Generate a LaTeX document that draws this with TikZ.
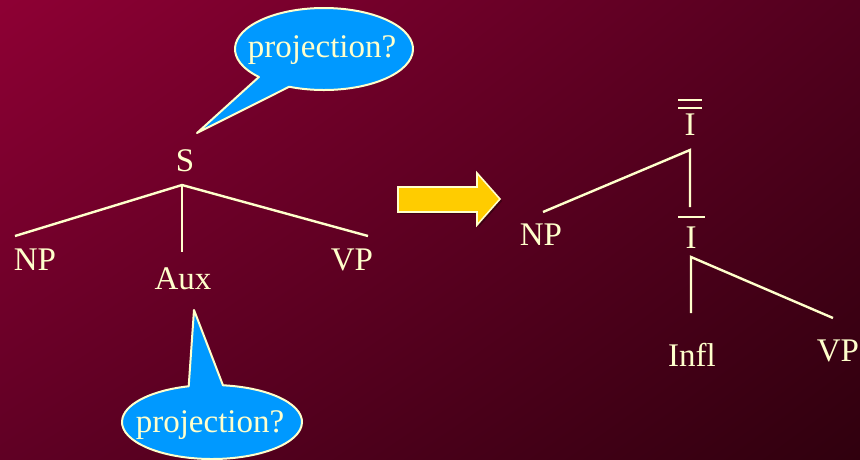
\documentclass[tikz,border=0pt]{standalone}
\usepackage{fontspec}
\setmainfont{Liberation Serif}
\usetikzlibrary{shadings}
\definecolor{creamc}{RGB}{255,255,204}
\definecolor{bubblec}{RGB}{0,153,255}
\definecolor{arrowc}{RGB}{255,204,0}
\definecolor{shadowc}{RGB}{60,0,20}
\definecolor{bgA}{RGB}{142,0,52}
\definecolor{bgB}{RGB}{82,0,30}
\definecolor{bgC}{RGB}{96,0,36}
\definecolor{bgD}{RGB}{48,0,14}
\begin{document}
\begin{tikzpicture}[x=1pt,y=-1pt,
  lbl/.style={text=creamc,font=\fontsize{33}{36}\selectfont,inner sep=0pt,anchor=base},
  branch/.style={draw=creamc,line width=2.4pt},
  overbar/.style={draw=creamc,line width=2pt},
  bubble/.style={fill=bubblec,draw=creamc,line width=2pt,line join=round},
  bubtext/.style={text=creamc,font=\fontsize{33}{36}\selectfont,inner sep=0pt}]
% background
\useasboundingbox (0,0) rectangle (860,459);
\shade[upper left=bgA,upper right=bgB,lower left=bgC,lower right=bgD] (0,0) rectangle (860,459);

% ---- left tree
\node[lbl] (S) at (185,171) {S};
\node[lbl] (NP1) at (35,270) {NP};
\node[lbl] (Aux) at (183,289) {Aux};
\node[lbl] (VP1) at (352,270) {VP};
\coordinate (s0) at (182,185);
\coordinate (np1t) at (15,236);
\coordinate (aux1t) at (182,252);
\coordinate (vp1t) at (368,236);
\draw[branch] (np1t) -- (s0) -- (vp1t);
\draw[branch] (s0) -- (aux1t);

% ---- upper callout
\coordinate (tip1) at (197,133);
\draw[bubble] (324,49) ++(137:89 and 41) arc[start angle=137,end angle=473,x radius=89,y radius=41] -- (tip1) -- cycle;
\node[bubtext] (q1) at (322,50) {projection?};

% ---- lower callout
\coordinate (tip2) at (194,310);
\draw[bubble] (212,422) ++(277:90 and 37) arc[start angle=277,end angle=615,x radius=90,y radius=37] -- (tip2) -- cycle;
\node[bubtext] (q2) at (210,425) {projection?};

% ---- block arrow
\fill[shadowc] (400,189) -- (479,189) -- (479,175) -- (502,201) -- (479,227) -- (479,214) -- (400,214) -- cycle;
\draw[fill=arrowc,draw=creamc,line width=1.6pt,line join=miter] (398,187) -- (477,187) -- (477,173) -- (500,199) -- (477,225) -- (477,212) -- (398,212) -- cycle;

% ---- right tree
\node[lbl] (Ibb) at (690,135) {I};
\node[lbl] (NP2) at (541,245) {NP};
\node[lbl] (Ib) at (691,248) {I};
\node[lbl] (Infl) at (692,366) {Infl};
\node[lbl] (VP2) at (838,361) {VP};
\draw[overbar] ([shift={(-12,-13)}]Ibb.north) -- ++(24,0);
\draw[overbar] ([shift={(-12,-5)}]Ibb.north) -- ++(24,0);
\draw[overbar] ([shift={(-13,-9)}]Ib.north) -- ++(27,0);
\coordinate (ibb0) at (690,150);
\coordinate (np2t) at (543,212);
\coordinate (ibt) at (690,207);
\draw[branch] (np2t) -- (ibb0) -- (ibt);
\coordinate (ib0) at (691,257);
\coordinate (inflt) at (691,313);
\coordinate (vp2t) at (833,318);
\draw[branch] (inflt) -- (ib0) -- (vp2t);
\end{tikzpicture}
\end{document}
